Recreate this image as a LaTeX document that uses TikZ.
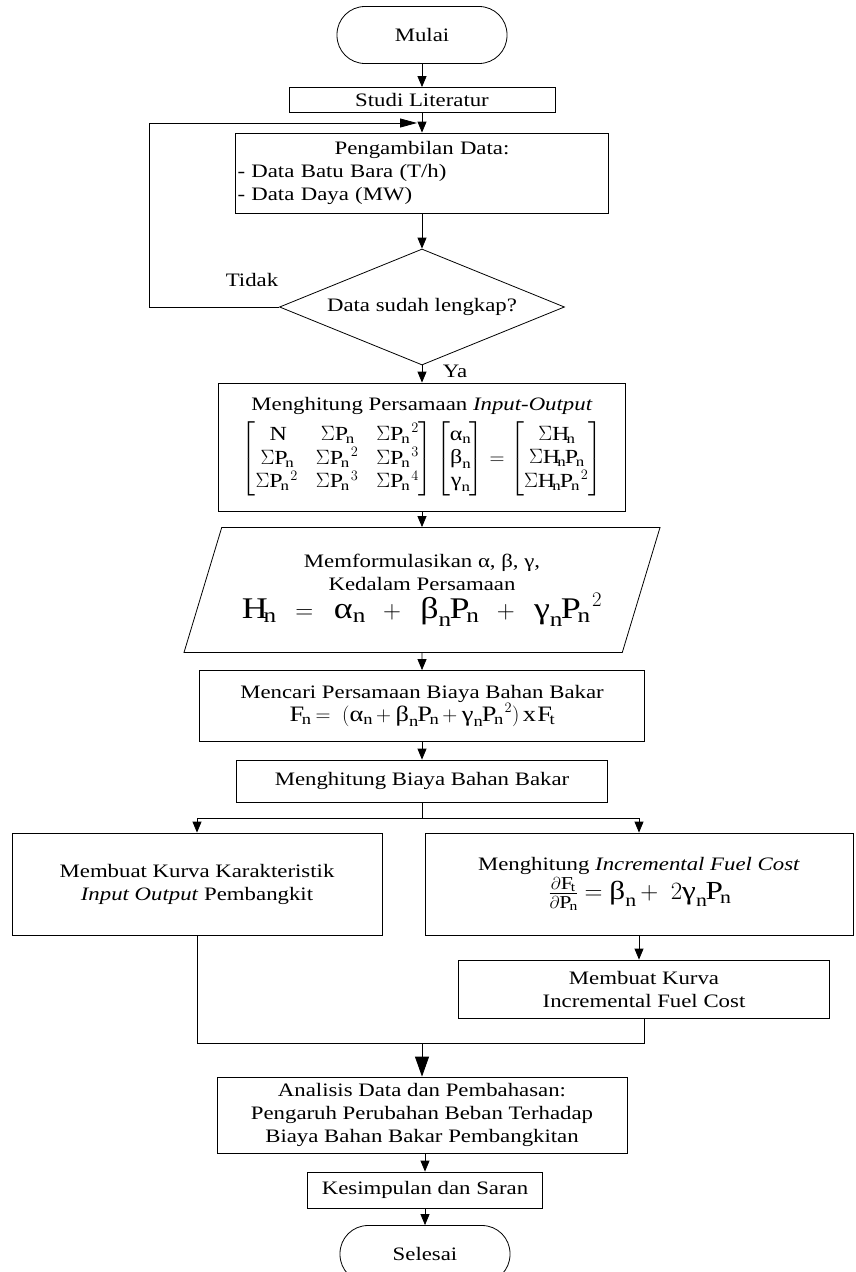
\documentclass[tikz,border=0pt]{standalone}
\usepackage{amsmath}
\usepackage{fontspec}
\setmainfont{Liberation Serif}[FakeStretch=1.2]
\usetikzlibrary{arrows.meta,shapes.geometric}

\newcommand{\galpha}{\text{α}}
\newcommand{\gbeta}{\text{β}}
\newcommand{\ggamma}{\text{γ}}
\newcommand{\Pn}{{\mathrm{P}_\mathrm{n}}}

\begin{document}
\begin{tikzpicture}[x=1pt,y=-1pt,->,>={Triangle[length=11pt,width=9pt]},
    line width=0.8pt,node distance=65pt,
    base/.style={font=\fontsize{19}{23}\selectfont,inner sep=2pt,align=center},
    term node/.style={base,rectangle,rounded corners=28pt,draw,
      minimum width=170pt,minimum height=57pt},
    proc node/.style={base,rectangle,draw},
    dec node/.style={base,diamond,draw,aspect=2.46,inner sep=0pt,
      minimum width=285pt,minimum height=116pt},
    io node/.style={base,trapezium,draw,trapezium left angle=63.6,
      trapezium right angle=116.4,trapezium stretches body,
      minimum width=476pt,minimum height=125pt},
    label node/.style={font=\fontsize{19}{23}\selectfont,inner sep=0pt}]

    \useasboundingbox (0,0) rectangle (855,1272);

    \node[term node] (mulai) at (422,35) {Mulai};
    \node[proc node,minimum width=266pt,minimum height=25pt] (studi) [below of=mulai] {Studi Literatur};
    \node[proc node,text width=369pt,minimum height=80pt,align=left] (data) [node distance=73pt,below of=studi]
      {\makebox[\linewidth][c]{Pengambilan Data:}\\- Data Batu Bara (T/h)\\- Data Daya (MW)};
    \node[dec node] (dec) [node distance=134pt,below of=data] {Data sudah lengkap?};
    \node[proc node,minimum width=407pt,minimum height=128pt] (io) [node distance=140pt,below of=dec]
      {Menghitung Persamaan \textit{Input-Output}\\[6pt]
       {\fontsize{20}{23}\selectfont\setlength{\arraycolsep}{9pt}%
       $\begin{bmatrix}\mathrm{N} & \Sigma\Pn & \Sigma\Pn^{\,2}\\
         \Sigma\Pn & \Sigma\Pn^{\,2} & \Sigma\Pn^{\,3}\\
         \Sigma\Pn^{\,2} & \Sigma\Pn^{\,3} & \Sigma\Pn^{\,4}\end{bmatrix}
        \setlength{\arraycolsep}{2pt}%
        \begin{bmatrix}\galpha_\mathrm{n}\\ \gbeta_\mathrm{n}\\ \ggamma_\mathrm{n}\end{bmatrix}=
        \setlength{\arraycolsep}{7pt}%
        \begin{bmatrix}\Sigma\mathrm{H}_\mathrm{n}\\ \Sigma\mathrm{H}_\mathrm{n}\Pn\\ \Sigma\mathrm{H}_\mathrm{n}\Pn^{\,2}\end{bmatrix}$}};
    \node[io node] (para) [node distance=143pt,below of=io]
      {Memformulasikan α, β, γ,\\Kedalam Persamaan\\[2pt]
       {\fontsize{30}{33}\selectfont $\mathrm{H}_\mathrm{n}\;\;=\;\;\galpha_\mathrm{n}\;\;+\;\;\gbeta_\mathrm{n}\Pn\;\;+\;\;\ggamma_\mathrm{n}\Pn^{\,2}$}};
    \node[proc node,minimum width=445pt,minimum height=71pt] (cari) [node distance=116pt,below of=para]
      {Mencari Persamaan Biaya Bahan Bakar\\
       {\fontsize{22}{25}\selectfont $\mathrm{F}_\mathrm{n}=\;(\galpha_\mathrm{n}+\gbeta_\mathrm{n}\Pn+\ggamma_\mathrm{n}\Pn^{\,2})\,\mathrm{x}\,\mathrm{F}_\mathrm{t}$}};
    \node[proc node,minimum width=371pt,minimum height=42pt] (biaya) [node distance=75pt,below of=cari] {Menghitung Biaya Bahan Bakar};
    \coordinate (split) at (422,818);
    \node[proc node,minimum width=370pt,minimum height=102pt] (kurva) at (197,884)
      {Membuat Kurva Karakteristik\\\textit{Input Output} Pembangkit};
    \node[proc node,minimum width=428pt,minimum height=102pt] (ifc) at (639,884)
      {Menghitung \textit{Incremental Fuel Cost}\\[2pt]
       {\fontsize{26}{30}\selectfont $\frac{\partial\mathrm{F}_\mathrm{t}}{\partial\Pn}=\gbeta_\mathrm{n}+\;2\ggamma_\mathrm{n}\Pn$}};
    \node[proc node,minimum width=371pt,minimum height=58pt] (kurva2) at (644,989)
      {Membuat Kurva\\Incremental Fuel Cost};
    \coordinate (join) at (422,1043);
    \node[proc node,minimum width=410pt,minimum height=76pt] (analisis) at (422,1115)
      {Analisis Data dan Pembahasan:\\Pengaruh Perubahan Beban Terhadap\\Biaya Bahan Bakar Pembangkitan};
    \node[proc node,minimum width=235pt,minimum height=36pt] (kesimpulan) at (425,1190) {Kesimpulan dan Saran};
    \node[term node] (selesai) at (425,1254) {Selesai};

    \node[label node] (tidak) at (252,280) {Tidak};
    \node[label node] (ya) at (455,371) {Ya};

    \path (mulai) edge (studi)
    (studi) edge (data)
    (data) edge (dec)
    (dec) edge (io)
    (io) edge (para)
    (para) edge (cari)
    (cari) edge (biaya)
    (ifc.south) edge (ifc.south |- kurva2.north)
    (kesimpulan.north |- analisis.south) edge (kesimpulan)
    (kesimpulan) edge (selesai);

    % ulang kalau data belum lengkap
    \coordinate (fbtop) at (149,123);
    \coordinate (fbend) at (417,123);
    \draw[-{Triangle[length=17pt,width=9pt]}] (dec.west) -| (fbtop) -- (fbend);

    % cabang dan gabung
    \draw[-] (biaya) -- (split);
    \draw (split) -| (kurva);
    \draw (split) -| (ifc);
    \draw[-] (kurva.south) |- (join);
    \draw[-] (kurva2.south) |- (join);
    \draw[-{Triangle[length=20pt,width=14pt]}] (join) -- (analisis);
\end{tikzpicture}
\end{document}
